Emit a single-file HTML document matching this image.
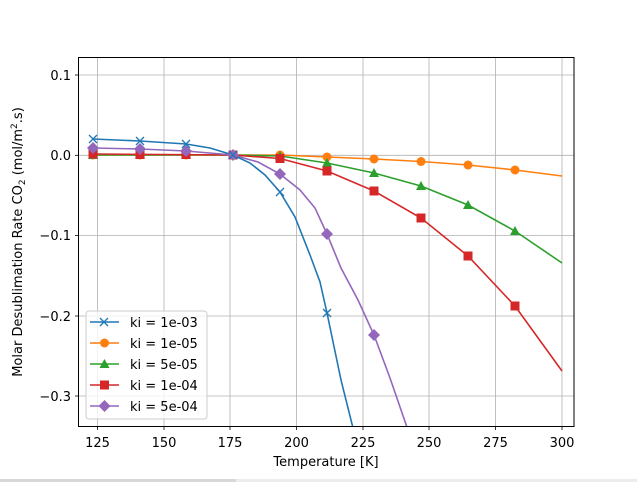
<!DOCTYPE html>
<html><head><meta charset="utf-8"><style>
html,body{margin:0;padding:0;background:#fff;}
svg{display:block;font-family:"DejaVu Sans","Liberation Sans",sans-serif;}
</style></head><body>
<svg width="637" height="482" viewBox="0 0 637 482" xmlns="http://www.w3.org/2000/svg">
<rect width="637" height="482" fill="#fff"/>
<defs><clipPath id="c"><rect x="78.5" y="57.5" width="495.5" height="369"/></clipPath></defs>
<g stroke="#b0b0b0" stroke-width="0.8">
<line x1="97.5" y1="57.5" x2="97.5" y2="426.5"/><line x1="164" y1="57.5" x2="164" y2="426.5"/>
<line x1="230" y1="57.5" x2="230" y2="426.5"/><line x1="296.5" y1="57.5" x2="296.5" y2="426.5"/>
<line x1="363" y1="57.5" x2="363" y2="426.5"/><line x1="429" y1="57.5" x2="429" y2="426.5"/>
<line x1="495.5" y1="57.5" x2="495.5" y2="426.5"/><line x1="562" y1="57.5" x2="562" y2="426.5"/>
<line x1="78.5" y1="75" x2="574" y2="75"/><line x1="78.5" y1="155.3" x2="574" y2="155.3"/>
<line x1="78.5" y1="235.5" x2="574" y2="235.5"/><line x1="78.5" y1="316" x2="574" y2="316"/>
<line x1="78.5" y1="396" x2="574" y2="396"/>
</g>
<g clip-path="url(#c)" fill="none" stroke-width="1.6">
<polyline stroke="#ff7f0e" points="93,155 280,155 327,157 374,159 421,161.5 468,165 515,170 562,176"/>
<polyline stroke="#2ca02c" points="93,155 233,155 280,156 327,163 374,173 421,186 468,205 515,231 562,263"/>
<polyline stroke="#d62728" points="93,154 233,155 280,158.5 327,171 374,191 421,218 468,256 515,306 562,371"/>
<polyline stroke="#9467bd" points="93,148 140,149 186,151 233,155 258,162 280,174 300,190 315,208 327,234 341,268 358,300 374,335 390,378 410,436"/>
<polyline stroke="#1f77b4" points="93,139 140,141 186,144 210,148 233,155 250,163 265,175 280,192 295,217 310,255 320,282 327,313 341,380 355,436"/>
</g>
<g clip-path="url(#c)">
<g fill="#ff7f0e"><circle cx="93" cy="155" r="4.5"/><circle cx="140" cy="155" r="4.5"/><circle cx="186" cy="155" r="4.5"/><circle cx="233" cy="155" r="4.5"/><circle cx="280" cy="155" r="4.5"/><circle cx="327" cy="157" r="4.5"/><circle cx="374" cy="159" r="4.5"/><circle cx="421" cy="161.5" r="4.5"/><circle cx="468" cy="165" r="4.5"/><circle cx="515" cy="170" r="4.5"/></g>
<g fill="#2ca02c"><path d="M93,150l5,9h-10z"/><path d="M140,150l5,9h-10z"/><path d="M186,150l5,9h-10z"/><path d="M233,150l5,9h-10z"/><path d="M280,151l5,9h-10z"/><path d="M327,158l5,9h-10z"/><path d="M374,168l5,9h-10z"/><path d="M421,181l5,9h-10z"/><path d="M468,200l5,9h-10z"/><path d="M515,226l5,9h-10z"/></g>
<g fill="#d62728"><rect x="88.5" y="149.5" width="9" height="9"/><rect x="135.5" y="150" width="9" height="9"/><rect x="181.5" y="150" width="9" height="9"/><rect x="228.5" y="150.5" width="9" height="9"/><rect x="275.5" y="154" width="9" height="9"/><rect x="322.5" y="166.5" width="9" height="9"/><rect x="369.5" y="186.5" width="9" height="9"/><rect x="416.5" y="213.5" width="9" height="9"/><rect x="463.5" y="251.5" width="9" height="9"/><rect x="510.5" y="301.5" width="9" height="9"/></g>
<g fill="#9467bd"><path d="M93,142l6,6l-6,6l-6,-6z"/><path d="M140,143l6,6l-6,6l-6,-6z"/><path d="M186,145l6,6l-6,6l-6,-6z"/><path d="M233,149l6,6l-6,6l-6,-6z"/><path d="M280,168l6,6l-6,6l-6,-6z"/><path d="M327,228l6,6l-6,6l-6,-6z"/><path d="M374,329l6,6l-6,6l-6,-6z"/></g>
<g stroke="#1f77b4" stroke-width="1.3"><path d="M89,135l8,8M97,135l-8,8"/><path d="M136,137l8,8M144,137l-8,8"/><path d="M182,140l8,8M190,140l-8,8"/><path d="M229,151l8,8M237,151l-8,8"/><path d="M276,188l8,8M284,188l-8,8"/><path d="M323,309l8,8M331,309l-8,8"/></g>
</g>
<rect x="78.5" y="57.5" width="495.5" height="369" fill="none" stroke="#000" stroke-width="1"/>
<g stroke="#000" stroke-width="0.8">
<line x1="97.5" y1="426.5" x2="97.5" y2="430"/><line x1="164" y1="426.5" x2="164" y2="430"/><line x1="230" y1="426.5" x2="230" y2="430"/><line x1="296.5" y1="426.5" x2="296.5" y2="430"/><line x1="363" y1="426.5" x2="363" y2="430"/><line x1="429" y1="426.5" x2="429" y2="430"/><line x1="495.5" y1="426.5" x2="495.5" y2="430"/><line x1="562" y1="426.5" x2="562" y2="430"/>
<line x1="75" y1="75" x2="78.5" y2="75"/><line x1="75" y1="155.3" x2="78.5" y2="155.3"/><line x1="75" y1="235.5" x2="78.5" y2="235.5"/><line x1="75" y1="316" x2="78.5" y2="316"/><line x1="75" y1="396" x2="78.5" y2="396"/>
</g>
<g font-size="13" fill="#000" text-anchor="middle">
<text x="97.5" y="447">125</text><text x="164" y="447">150</text><text x="230" y="447">175</text><text x="296.5" y="447">200</text><text x="363" y="447">225</text><text x="429" y="447">250</text><text x="495.5" y="447">275</text><text x="562" y="447">300</text>
<text x="326" y="466">Temperature [K]</text>
</g>
<g font-size="13" fill="#000" text-anchor="end">
<text x="71" y="80">0.1</text><text x="71" y="160">0.0</text><text x="71" y="240">−0.1</text><text x="71" y="321">−0.2</text><text x="71" y="401">−0.3</text>
</g>
<text transform="translate(22,242) rotate(-90)" font-size="13" text-anchor="middle">Molar Desublimation Rate CO<tspan font-size="9" dy="3">2</tspan><tspan dy="-3"> (mol/m</tspan><tspan font-size="9" dy="-5">2</tspan><tspan dy="5">.s)</tspan></text>
<rect x="86" y="311" width="121" height="108" rx="3" fill="#fff" fill-opacity="0.8" stroke="#ccc"/>
<g stroke-width="1.6" fill="none">
<line x1="90" y1="322" x2="119" y2="322" stroke="#1f77b4"/><line x1="90" y1="343" x2="119" y2="343" stroke="#ff7f0e"/><line x1="90" y1="364" x2="119" y2="364" stroke="#2ca02c"/><line x1="90" y1="385" x2="119" y2="385" stroke="#d62728"/><line x1="90" y1="406" x2="119" y2="406" stroke="#9467bd"/>
</g>
<path d="M100,318l8,8M108,318l-8,8" stroke="#1f77b4" stroke-width="1.3"/>
<circle cx="104.5" cy="343" r="4.5" fill="#ff7f0e"/>
<path d="M104.5,359l5,9h-10z" fill="#2ca02c"/>
<rect x="100" y="380.5" width="9" height="9" fill="#d62728"/>
<path d="M104.5,400l6,6l-6,6l-6,-6z" fill="#9467bd"/>
<g font-size="13" fill="#000">
<text x="130" y="327">ki = 1e-03</text><text x="130" y="348">ki = 1e-05</text><text x="130" y="369">ki = 5e-05</text><text x="130" y="390">ki = 1e-04</text><text x="130" y="411">ki = 5e-04</text>
</g>
<rect x="0" y="479" width="637" height="3" fill="#ececec"/>
<rect x="0" y="479" width="236" height="3" fill="#d8d8d8"/>
</svg>
</body></html>
